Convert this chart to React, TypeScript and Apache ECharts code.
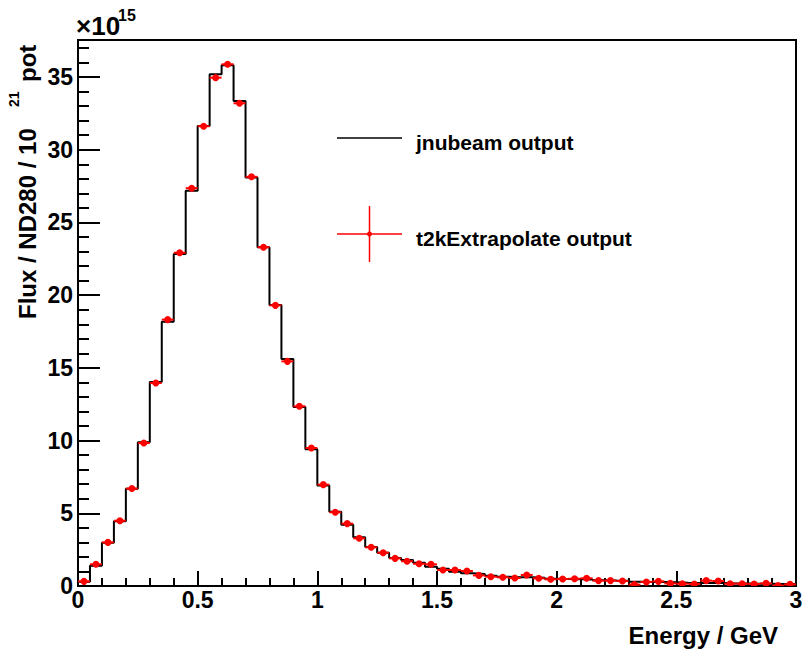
import { useEffect, useRef } from "react";
import * as echarts from "echarts";

// Energy binning: 60 bins of 0.05 GeV from 0 to 3 GeV
const BIN_WIDTH = 0.05;
const E_MIN = 0;
const E_MAX = 3;

// Flux per bin, in units of 1e15 / ND280 / 1e21 pot
const jnubeamFlux = [
  0.3, 1.4, 2.98, 4.45, 6.69, 9.88, 14.03, 18.18, 22.83, 27.18,
  31.64, 35.19, 35.81, 33.36, 28.09, 23.29, 19.33, 15.61, 12.31, 9.4,
  6.92, 5.11, 4.22, 3.35, 2.68, 2.29, 1.93, 1.79, 1.6, 1.33,
  1.19, 0.98, 0.87, 0.83, 0.71, 0.64, 0.6, 0.6, 0.57, 0.5,
  0.48, 0.47, 0.45, 0.4, 0.37, 0.36, 0.3, 0.28, 0.27, 0.25,
  0.22, 0.21, 0.2, 0.2, 0.18, 0.17, 0.16, 0.15, 0.14, 0.13,
];

const t2kExtrapolateFlux = [
  0.32, 1.49, 3.0, 4.49, 6.7, 9.83, 13.96, 18.32, 22.92, 27.36,
  31.62, 34.96, 35.88, 33.2, 28.14, 23.3, 19.3, 15.45, 12.36, 9.49,
  6.97, 5.07, 4.29, 3.28, 2.66, 2.29, 1.9, 1.7, 1.53, 1.49,
  1.1, 1.1, 1.03, 0.73, 0.64, 0.6, 0.55, 0.76, 0.53, 0.46,
  0.48, 0.5, 0.53, 0.37, 0.37, 0.34, 0.1, 0.28, 0.32, 0.18,
  0.16, 0.14, 0.37, 0.34, 0.16, 0.16, 0.14, 0.18, 0.03, 0.11,
];

const Y_MAX = 37.55;
const Y_MAJOR = 5;
const X_MAJOR = 0.5;

const FONT = "'Liberation Sans', Arial, Helvetica, sans-serif";

export default function App() {
  const ref = useRef<HTMLDivElement>(null);

  useEffect(() => {
    if (!ref.current) return;
    const chart = echarts.init(ref.current, null, { renderer: "svg" });

    // Step outline of the jnubeam histogram: one point per lower bin edge
    const histPoints: number[][] = [[E_MIN, 0]];
    jnubeamFlux.forEach((v, i) => histPoints.push([E_MIN + i * BIN_WIDTH, v]));
    histPoints.push([E_MAX, jnubeamFlux[jnubeamFlux.length - 1]]);

    // Extrapolated points at bin centres
    const pointData = t2kExtrapolateFlux.map((v, i) => [
      E_MIN + (i + 0.5) * BIN_WIDTH,
      v,
    ]);

    const red = "#ff0000";

    chart.setOption({
      animation: false,
      backgroundColor: "#ffffff",
      grid: {
        left: 78,
        right: 10,
        top: 40,
        bottom: 69,
        show: true,
        borderColor: "#000",
        borderWidth: 2,
        backgroundColor: "transparent",
      },
      xAxis: {
        type: "value",
        min: E_MIN,
        max: E_MAX,
        interval: X_MAJOR,
        axisLine: { show: true, onZero: false, lineStyle: { color: "#000", width: 2 } },
        axisTick: { show: true, inside: true, length: 15, lineStyle: { color: "#000", width: 2 } },
        minorTick: { show: true, splitNumber: 5, length: 8, lineStyle: { color: "#000", width: 2 } },
        splitLine: { show: false },
        minorSplitLine: { show: false },
        axisLabel: {
          color: "#000",
          fontFamily: FONT,
          fontWeight: "bold",
          fontSize: 23,
          margin: 2,
          formatter: (v: number) => String(v),
        },
      },
      yAxis: [
        {
          type: "value",
          min: 0,
          max: Y_MAX,
          interval: Y_MAJOR,
          position: "left",
          axisLine: { show: true, onZero: false, lineStyle: { color: "#000", width: 2 } },
          axisTick: { show: true, inside: true, length: 22, lineStyle: { color: "#000", width: 2 } },
          splitLine: { show: false },
          axisLabel: {
            color: "#000",
            fontFamily: FONT,
            fontWeight: "bold",
            fontSize: 23,
            margin: 5,
            showMaxLabel: false,
            formatter: (v: number) => String(v),
          },
        },
        {
          // minor ticks every 1 unit
          type: "value",
          min: 0,
          max: Y_MAX,
          interval: 1,
          position: "left",
          offset: 0,
          axisLine: { show: false },
          axisTick: { show: true, inside: true, length: 11, lineStyle: { color: "#000", width: 2 } },
          splitLine: { show: false },
          axisLabel: { show: false },
        },
      ],
      series: [
        {
          name: "jnubeam output",
          type: "line",
          data: histPoints,
          step: "end",
          symbol: "none",
          lineStyle: { color: "#000", width: 2 },
          z: 2,
        },
        {
          name: "t2kExtrapolate output",
          type: "custom",
          data: pointData,
          clip: true,
          z: 3,
          renderItem: (params: any, api: any) => {
            const x = api.value(0);
            const y = api.value(1);
            const left = api.coord([x - BIN_WIDTH / 2, y]);
            const right = api.coord([x + BIN_WIDTH / 2, y]);
            const c = api.coord([x, y]);
            return {
              type: "group",
              children: [
                {
                  type: "line",
                  shape: { x1: left[0], y1: left[1], x2: right[0], y2: right[1] },
                  style: { stroke: red, lineWidth: 2 },
                },
                {
                  type: "circle",
                  shape: { cx: c[0], cy: c[1], r: 3.5 },
                  style: { fill: red },
                },
              ],
            };
          },
        },
      ],
      graphic: [
        // axis multiplier
        {
          type: "text",
          x: 76,
          y: 26,
          style: {
            text: "\u00d710",
            fill: "#000",
            font: `bold 26px ${FONT}`,
            align: "left",
            verticalAlign: "middle",
          },
        },
        {
          type: "text",
          x: 118,
          y: 15,
          style: {
            text: "15",
            fill: "#000",
            font: `bold 16px ${FONT}`,
            align: "left",
            verticalAlign: "middle",
          },
        },
        // y-axis title
        {
          type: "text",
          x: 27,
          y: 319,
          rotation: Math.PI / 2,
          style: {
            text: "Flux / ND280 / 10",
            fill: "#000",
            font: `bold 24px ${FONT}`,
            align: "left",
            verticalAlign: "middle",
          },
        },
        {
          type: "text",
          x: 14,
          y: 107,
          rotation: Math.PI / 2,
          style: {
            text: "21",
            fill: "#000",
            font: `bold 14px ${FONT}`,
            align: "left",
            verticalAlign: "middle",
          },
        },
        {
          type: "text",
          x: 27,
          y: 82,
          rotation: Math.PI / 2,
          style: {
            text: "pot",
            fill: "#000",
            font: `bold 24px ${FONT}`,
            align: "left",
            verticalAlign: "middle",
          },
        },
        // x-axis title
        {
          type: "text",
          x: 778,
          y: 635,
          style: {
            text: "Energy / GeV",
            fill: "#000",
            font: `bold 24px ${FONT}`,
            align: "right",
            verticalAlign: "middle",
          },
        },
        // legend
        {
          type: "line",
          shape: { x1: 337, y1: 138, x2: 402, y2: 138 },
          style: { stroke: "#000", lineWidth: 1.5 },
        },
        {
          type: "text",
          x: 416,
          y: 142,
          style: {
            text: "jnubeam output",
            fill: "#000",
            font: `bold 21px ${FONT}`,
            align: "left",
            verticalAlign: "middle",
          },
        },
        {
          type: "line",
          shape: { x1: 337, y1: 234, x2: 402, y2: 234 },
          style: { stroke: red, lineWidth: 1.5 },
        },
        {
          type: "line",
          shape: { x1: 369.5, y1: 206, x2: 369.5, y2: 262 },
          style: { stroke: red, lineWidth: 1.5 },
        },
        {
          type: "circle",
          shape: { cx: 369.5, cy: 234, r: 2.5 },
          style: { fill: red },
        },
        {
          type: "text",
          x: 416,
          y: 238,
          style: {
            text: "t2kExtrapolate output",
            fill: "#000",
            font: `bold 21px ${FONT}`,
            align: "left",
            verticalAlign: "middle",
          },
        },
      ],
    });

    return () => chart.dispose();
  }, []);

  return (
    <div
      ref={ref}
      style={{ position: "absolute", left: 0, top: 0, width: 806, height: 655, background: "#fff" }}
    />
  );
}
